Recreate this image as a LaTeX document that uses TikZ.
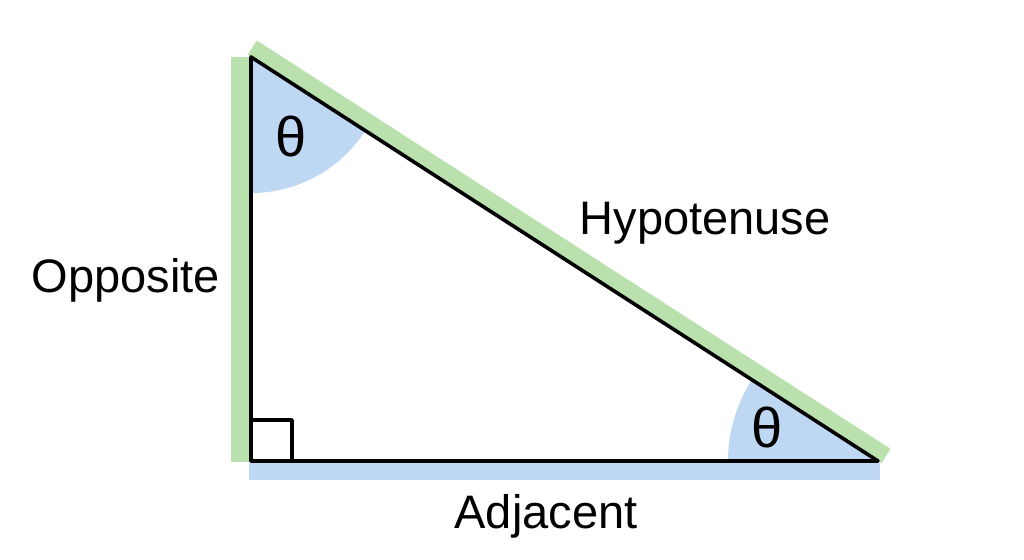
\documentclass[tikz,border=0pt]{standalone}
\usepackage{fontspec}
\setmainfont{Liberation Sans}
\definecolor{bandgreen}{RGB}{186,225,173}
\definecolor{bandblue}{RGB}{190,215,242}
\begin{document}
\begin{tikzpicture}[x=0.5pt,y=-0.5pt,
  lbl/.style={font=\fontsize{23.5}{28}\selectfont, anchor=base, inner sep=0pt},
  ang/.style={font=\fontsize{28}{32}\selectfont, anchor=base, inner sep=0pt},
  edge/.style={line width=1.8pt, line join=round, black}]
\useasboundingbox[fill=white] (0,0) rectangle (1024,559);
\coordinate (A) at (251,57);
\coordinate (C) at (251,461);
\coordinate (B) at (878,461);
% side bands
\fill[bandgreen] (231,57) rectangle (250,462);
\fill[bandblue] (249,463) rectangle (880,480);
\fill[bandgreen] (247.6,54.8) -- (256.8,40.5) -- (890.6,448.9) -- (881.4,463.2) -- cycle;
% angle marks
\fill[bandblue] (A) -- ++(0,136) arc[start angle=90, end angle=32.8, radius=136] -- cycle;
\fill[bandblue] (B) -- ++(-150,0) arc[start angle=180, end angle=212.8, radius=150] -- cycle;
% right angle
\draw[edge] (C) rectangle (292,420);
% triangle
\draw[edge] (A) -- (C) -- (B) -- cycle;
% labels
\node[lbl] (opp) at (126,292) {Opposite};
\node[lbl] (hyp) at (705,234) {Hypotenuse};
\node[lbl] (adj) at (546,528) {Adjacent};
\node[ang] (t1) at (291,156) {θ};
\node[ang] (t2) at (767,447) {θ};
\end{tikzpicture}
\end{document}
